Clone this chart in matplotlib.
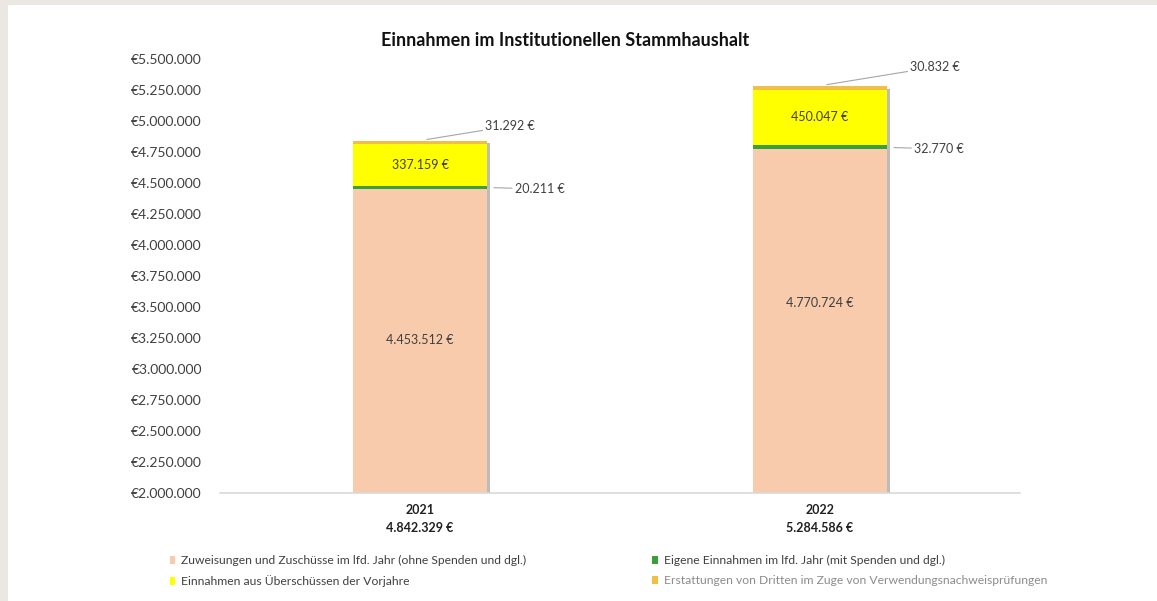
import matplotlib.pyplot as plt
import matplotlib.ticker as ticker
import matplotlib.patheffects as pe
from matplotlib.patches import Patch, Rectangle
import numpy as np

plt.rcParams.update({
    'font.family': ['Lato', 'DejaVu Sans'],
    'font.size': 8,
})

# Daten
years = ['2021', '2022']
totals = ['4.842.329 €', '5.284.586 €']
zuweisungen = [4453512, 4770724]
eigene = [20211, 32770]
ueberschuesse = [337159, 450047]
erstattungen = [31292, 30832]

series_names = [
    'Zuweisungen und Zuschüsse im lfd. Jahr (ohne Spenden und dgl.)',
    'Eigene Einnahmen im lfd. Jahr (mit Spenden und dgl.)',
    'Einnahmen aus Überschüssen der Vorjahre',
    'Erstattungen von Dritten im Zuge von Verwendungsnachweisprüfungen',
]
colors = ['#F8CBAD', '#3A9E3A', '#FFFF00', '#F2BE45']

y_ticks = np.arange(2000000, 5500001, 250000)


def euro(v):
    return f'{v:,.0f} €'.replace(',', '.')


fig = plt.figure(figsize=(11.57, 6.01), dpi=100, facecolor='#EBE8E3')
fig.patches.append(Rectangle((8 / 1157, 0), 1, 1 - 5 / 601, transform=fig.transFigure,
                             facecolor='white', edgecolor='none', zorder=-10))
ax = fig.add_axes([220 / 1157, 1 - 493 / 601, 800 / 1157, 434 / 601])
ax.set_facecolor('none')

x = np.arange(len(years))
w = 0.335

bottom = np.zeros(len(years))
for vals, col in zip([zuweisungen, eigene, ueberschuesse, erstattungen], colors):
    vals = np.array(vals, dtype=float)
    ax.bar(x, vals, w, bottom=bottom, color=col, edgecolor='none', zorder=2)
    bottom = bottom + vals

# Schatten für den gesamten Balken
ax.bar(x, bottom, w, color='none', edgecolor='none', zorder=1,
       path_effects=[pe.SimplePatchShadow(offset=(2.5, -2), shadow_rgbFace='#7A7A7A', alpha=0.5)])

ax.set_ylim(2000000, 5500000)
ax.set_xlim(-0.5, 1.5)
ax.set_yticks(y_ticks)
ax.yaxis.set_major_formatter(ticker.FuncFormatter(lambda v, p: '€' + f'{v:,.0f}'.replace(',', '.')))
ax.tick_params(axis='y', length=0, pad=13, labelsize=10, labelcolor='#404040')
ax.set_xticks(x)
ax.set_xticklabels([f'{y}\n{t}' for y, t in zip(years, totals)], fontweight='bold',
                   fontsize=9, color='#202020', linespacing=1.6)
ax.tick_params(axis='x', length=0, pad=8)
for s in ['top', 'right', 'left']:
    ax.spines[s].set_visible(False)
ax.spines['bottom'].set_color('#D9D9D9')
ax.spines['bottom'].set_linewidth(1.2)

# Beschriftungen innerhalb der Balken
z = np.array(zuweisungen, dtype=float)
e = np.array(eigene, dtype=float)
u = np.array(ueberschuesse, dtype=float)
lab_y = [3230000, 3530000]
for i in range(len(years)):
    ax.text(x[i], lab_y[i], euro(zuweisungen[i]), ha='center', va='center',
            fontsize=9, color='#404040', zorder=5)
    ax.text(x[i], z[i] + e[i] + u[i] / 2, euro(ueberschuesse[i]), ha='center', va='center',
            fontsize=9, color='#404040', zorder=5)

# Beschriftungen mit Führungslinien
line_kw = dict(arrowstyle='-', color='#A6A6A6', lw=0.8, shrinkA=0, shrinkB=5)
green_off = [(20, -1), (19.5, -1)]
top_off = [(47, 10.5), (65, 13.5)]
for i in range(len(years)):
    ax.annotate(euro(eigene[i]), xy=(x[i] + w / 2, z[i] + e[i] / 2), xytext=green_off[i],
                textcoords='offset points', ha='left', va='center', fontsize=9, color='#404040',
                arrowprops=line_kw, zorder=5)
    ax.annotate(euro(erstattungen[i]), xy=(x[i], bottom[i]), xytext=top_off[i],
                textcoords='offset points', ha='left', va='center', fontsize=9, color='#404040',
                arrowprops=line_kw, zorder=5)

fig.text(565 / 1157, 1 - 41 / 601, 'Einnahmen im Institutionellen Stammhaushalt',
         ha='center', va='center', fontsize=13, fontweight='bold', color='#111111')

handles = [Patch(facecolor=c, edgecolor='none') for c in colors]
order = [0, 2, 1, 3]
leg = fig.legend([handles[k] for k in order], [series_names[k] for k in order],
                 ncol=2, loc='upper left', bbox_to_anchor=(170 / 1157, 1 - 555 / 601),
                 frameon=False, fontsize=8.7, handlelength=0.45, handleheight=0.7,
                 handletextpad=0.5, columnspacing=10.4, labelspacing=0.75, borderaxespad=0,
                 borderpad=0)
for t in leg.get_texts():
    t.set_color('#404040')
leg.get_texts()[3].set_color('#8C8C8C')

fig.savefig('out.png', dpi=100, facecolor=fig.get_facecolor())
